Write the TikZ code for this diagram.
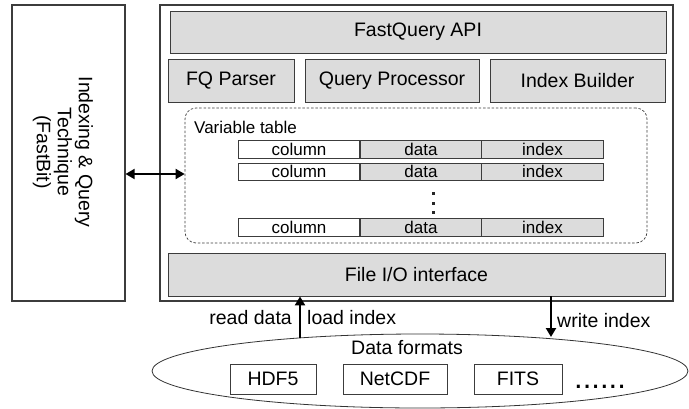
\documentclass[tikz,border=0pt]{standalone}
\usepackage{fontspec}
\setmainfont{Liberation Sans}
\usetikzlibrary{arrows.meta,shapes.geometric}
\definecolor{boxfill}{HTML}{DCDCDC}
\definecolor{boxline}{HTML}{3C3C3C}
\begin{document}
\begin{tikzpicture}[x=1pt,y=-1pt,
  bigfont/.style={font=\fontsize{19.5}{21}\selectfont},
  smallfont/.style={font=\fontsize{17}{18}\selectfont},
  plainbox/.style={draw=boxline,line width=0.9pt,inner sep=0pt,bigfont},
  graybox/.style={plainbox,fill=boxfill},
  cellw/.style={draw=boxline,line width=0.8pt,inner sep=0pt,minimum width=121.7pt,smallfont},
  cellg/.style={cellw,fill=boxfill},
  fmtbox/.style={plainbox,minimum height=30pt},
  thickarrow/.style={line width=2.2pt,-{Triangle[width=10pt,length=9pt]}},
  dblarrow/.style={line width=1.8pt,{Triangle[width=10pt,length=9pt]}-{Triangle[width=10pt,length=9pt]}},
  lbl/.style={bigfont,inner sep=0pt}
]
\useasboundingbox (0,0) rectangle (689,408);
% left box
\node[plainbox,line width=1.1pt,minimum width=113pt,minimum height=296pt] (left) at (68.5,153) {};
\node[bigfont,rotate=-90,align=center,inner sep=0pt] (lefttext) at (63,152) {Indexing \& Query\\Technique\\(FastBit)};
% main box
\node[plainbox,line width=1.3pt,minimum width=513pt,minimum height=296pt] (main) at (416.5,153) {};
\node[graybox,minimum width=496pt,minimum height=42pt] (api) at (418,32) {FastQuery API};
\node[graybox,minimum width=126pt,minimum height=43pt] (parser) at (231,80.5) {FQ Parser};
\node[graybox,minimum width=174pt,minimum height=43pt] (qp) at (392,80.5) {Query Processor};
\node[graybox,minimum width=175pt,minimum height=43pt] (ib) at (577.5,80.5) {Index Builder};
% variable table
\node[draw=boxline,dashed,dash pattern=on 2.5pt off 1.8pt,line width=0.7pt,rounded corners=11pt,minimum width=462pt,minimum height=135pt,inner sep=0pt] (vt) at (416,175.5) {};
\node[smallfont,anchor=base west,inner sep=0pt] (vtlabel) at (194,133) {Variable table};
\node[cellw,minimum height=18pt] (c1) at (299,149) {column};
\node[cellg,minimum height=18pt] (d1) at (421,149) {data};
\node[cellg,minimum height=18pt] (i1) at (542.5,149) {index};
\node[cellw,minimum height=17pt] (c2) at (299,171.5) {column};
\node[cellg,minimum height=17pt] (d2) at (421,171.5) {data};
\node[cellg,minimum height=17pt] (i2) at (542.5,171.5) {index};
\node[cellw,minimum height=18pt] (c3) at (299,227) {column};
\node[cellg,minimum height=18pt] (d3) at (421,227) {data};
\node[cellg,minimum height=18pt] (i3) at (542.5,227) {index};
\foreach \yy in {193.5,203,212.5}
  \fill[black!85] (431.5,\yy-1.5) rectangle (434.5,\yy+1.5);
% file io
\node[graybox,minimum width=497pt,minimum height=43pt] (fileio) at (416.5,274.5) {File I/O interface};
% data formats
\node[draw=black!80,line width=0.8pt,ellipse,minimum width=536pt,minimum height=74pt,inner sep=0pt] (ell) at (420,371) {};
\node[lbl,anchor=base] (dflabel) at (407,354) {Data formats};
\node[fmtbox,minimum width=86pt] (hdf) at (273,379) {HDF5};
\node[fmtbox,minimum width=104pt] (netcdf) at (395,379) {NetCDF};
\node[fmtbox,minimum width=88pt] (fits) at (518,379) {FITS};
\node[font=\fontsize{31}{31}\selectfont,anchor=base west,inner sep=0pt] (more) at (574,388) {......};
% arrows
\coordinate (rd) at (300,338);
\coordinate (wr) at (551,337);
\draw[thickarrow] (rd) -- (rd |- fileio.south);
\draw[thickarrow] (wr |- fileio.south) -- (wr);
\draw[dblarrow] (left.east |- 0,174) -- (vt.west |- 0,174);
\node[lbl,anchor=base east] (rdlabel) at (292,324) {read data};
\node[lbl,anchor=base west] (ldlabel) at (307,324) {load index};
\node[lbl,anchor=base west] (wrlabel) at (557,327) {write index};
\end{tikzpicture}
\end{document}
